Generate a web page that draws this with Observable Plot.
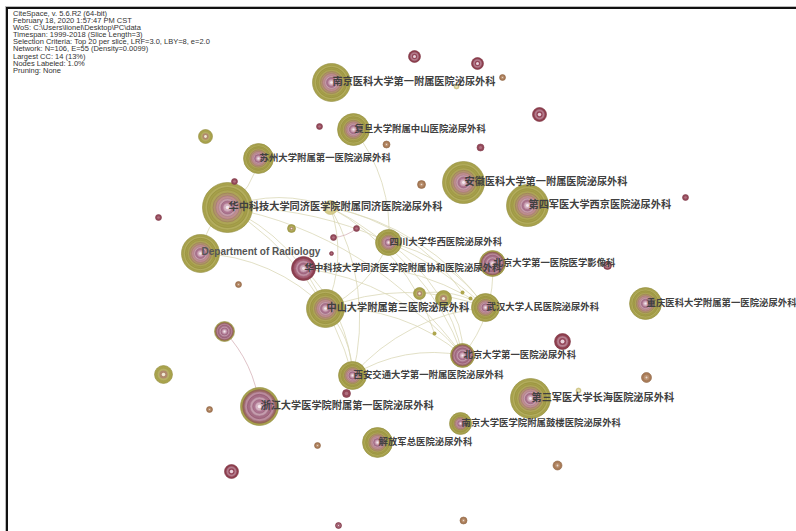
<!DOCTYPE html>
<html><head><meta charset="utf-8">
<script src="https://cdn.jsdelivr.net/npm/d3@7"></script>
<script src="https://cdn.jsdelivr.net/npm/@observablehq/plot@0.6"></script>
<style>
html,body{margin:0;padding:0;background:#fff;}
#wrap{position:relative;width:796px;height:531px;overflow:hidden;}
#frame{position:absolute;left:6px;top:7px;width:800px;height:540px;border-top:2.5px solid #111;border-left:2.5px solid #111;box-shadow:-1px -1px 0 #bbb;}
#meta{position:absolute;left:13px;top:10px;font:7.5px/7.1px "Liberation Sans",Arial,sans-serif;color:#333;white-space:pre;}
#chart{position:absolute;left:0;top:0;}
</style></head><body>
<div id="wrap"><div id="chart"></div><div id="frame"></div><div id="meta"></div></div>
<script>
const metaLines = [
  "CiteSpace, v. 5.6.R2 (64-bit)",
  "February 18, 2020 1:57:47 PM CST",
  "WoS: C:\\Users\\lionel\\Desktop\\PC\\data",
  "Timespan: 1999-2018 (Slice Length=3)",
  "Selection Criteria: Top 20 per slice, LRF=3.0, LBY=8, e=2.0",
  "Network: N=106, E=55 (Density=0.0099)",
  "Largest CC: 14 (13%)",
  "Nodes Labeled: 1.0%",
  "Pruning: None"
];

const nodeIds = ["njyk","fudan","suzhou","tongji","radio","xiehe","huaxi","anhui","xijing","bdyx","wuhan","chongqing","zs3","bdmn","xajt","zheda","changhai","gulou","jfj",
  "u01","u02","u03","u04","u05","u06","u07","u08","u09","u10","u11","u12","u13","u14","u15","u16","u17","u18","u19","u20","u21","u22","u23","u24","u25","u26","u27","u28","u29","u30","u31","u32","u33","u34","u35","u36","u37"];
const nodeX = [331,353,258,227,200,303,388,463,527,492,485,645,325,462,352,259,530,460,377,
  205,158,234,238,224,163,209,231,317,338,463,557,562,646,578,685,607,421,414,477,502,456,539,319,386,480,330,291,356,333,331,419,443,462,470,434,346];
const nodeY = [82,129,158,207,253,268,242,182,205,263,307,303,308,355,375,406,398,423,442,
  136,217,181,284,331,374,409,471,445,525,520,465,341,377,390,197,265,184,56,63,77,86,114,126,144,147,207,228,228,237,253,293,298,292,298,333,393];
const nodeSize = [19,16,15,25,19,12,13,21,21,13,14,16,19,12,14,19,20,11,15,
  7,3,3,3,10,9,3,7,3,3,3.5,4.5,8,5,2.5,3,4,4,6,6,3,2.5,7,3,3.5,3.5,7,4,3,3,2,6,8,2,2,2,4];
const nodeType = ["olive","olive","olive","olive","olive","crimson","olive","olive","olive","mauve","olive","olive","olive","mauve","olive","mauve","olive","olive","olive",
  "small","dot","dot","brown","mauve","small","brown","ring","brown","ring","brown","brown","ring","brown","pale","dot","ring","brown","ring","ring","brown","pale","ring","dot","brown","dot","pale","small","dot","dot","dot","small","small","tiny","tiny","tiny","dot"];
const nodeLabel = ["南京医科大学第一附属医院泌尿外科","复旦大学附属中山医院泌尿外科","苏州大学附属第一医院泌尿外科","华中科技大学同济医学院附属同济医院泌尿外科","Department of Radiology","华中科技大学同济医学院附属协和医院泌尿外科","四川大学华西医院泌尿外科","安徽医科大学第一附属医院泌尿外科","第四军医大学西京医院泌尿外科","北京大学第一医院医学影像科","武汉大学人民医院泌尿外科","重庆医科大学附属第一医院泌尿外科","中山大学附属第三医院泌尿外科","北京大学第一医院泌尿外科","西安交通大学第一附属医院泌尿外科","浙江大学医学院附属第一医院泌尿外科","第三军医大学长海医院泌尿外科","南京大学医学院附属鼓楼医院泌尿外科","解放军总医院泌尿外科"];

const edgeSource = ["tongji","tongji","tongji","tongji","radio","suzhou","u27","u27","u27","u27","huaxi","huaxi","zs3","zs3","xajt","xajt","xiehe","xiehe","u05","u29","zs3","u33","bdyx","huaxi","radio","tongji","u27","fudan","u32","xiehe","u27"];
const edgeTarget = ["zs3","xajt","bdmn","u27","tongji","tongji","bdmn","wuhan","xajt","zs3","bdmn","wuhan","bdmn","wuhan","wuhan","bdmn","bdmn","wuhan","zheda","u30","xajt","bdmn","bdmn","zs3","zs3","wuhan","u36","huaxi","wuhan","xajt","u34"];

// ---- Styles ----
const ringStyles = {
  olive: [[1,"#a9a34d","#8f8a3a"],[0.9,"#b3ad5d","#a09a48"],[0.8,"#a59f49","#938d3d"],[0.7,"#ada556","#99913f"],[0.58,"#b0946a","#9a7b58"],[0.47,"#bf8f8e","#a57278"],[0.36,"#c69daa","#a97a8c"],[0.26,"#ad7590","#94607a"],[0.16,"#d4b0c0","#bf95a8"],[0.07,"#f3e9ed","none"]],
  mauve: [[1,"#a7a04c","#918b3c"],[0.88,"#9c6a60","#85524f"],[0.78,"#bb8c9d","#a06c80"],[0.64,"#a56c84","#8e566e"],[0.5,"#c59dae","#a87a8e"],[0.36,"#ad7490","#935c77"],[0.22,"#d6b3c3","#bb92a6"],[0.09,"#f4eaee","none"]],
  crimson: [[1,"#8d3f50","#7a3242"],[0.82,"#a86075","#8f4b60"],[0.64,"#c393a6","#a77489"],[0.46,"#a86c86","#8f566f"],[0.3,"#d0aabb","#b48ea2"],[0.12,"#f1e4ea","none"]],
  ring: [[1,"#8e3e4d","#7a3140"],[0.7,"#b88090","#9c6577"],[0.45,"#93475a","none"],[0.25,"#e9d3dc","none"]],
  dot: [[1,"#94495a","#7f3a4a"],[0.45,"#b07080","none"]],
  brown: [[1,"#a87b57","#8f6545"],[0.55,"#ba9170","none"],[0.2,"#eadbcf","none"]],
  small: [[1,"#a9a34c","#928c3c"],[0.7,"#b7b064","#a39d4f"],[0.45,"#b08a6e","none"],[0.2,"#f0e9d5","none"]],
  pale: [[1,"#d6cc8c","#c2b874"],[0.5,"#ece4c0","none"]],
  tiny: [[1,"#aea64e","none"]]
};

document.getElementById("meta").textContent = metaLines.join("\n");

const nodes = nodeIds.map((id, i) => ({id, x: nodeX[i], y: nodeY[i], size: nodeSize[i], type: nodeType[i], label: nodeLabel[i] || ""}));
const byId = new Map(nodes.map(d => [d.id, d]));
const edges = edgeSource.map((s, i) => {
  const a = byId.get(s), b = byId.get(edgeTarget[i]);
  return {x1: a.x, y1: a.y, x2: b.x, y2: b.y, pink: s === "u05" || s === "u29"};
});

const nodeMarks = [];
for (const [type, levels] of Object.entries(ringStyles)) {
  const sub = nodes.filter(d => d.type === type);
  for (const [f, fill, stroke] of levels) {
    nodeMarks.push(Plot.dot(sub, {x: "x", y: "y", r: d => d.size * f, fill, stroke, strokeWidth: 0.6, sort: null}));
  }
}

const labelled = nodes.filter(d => d.label);
const svg = Plot.plot({
  width: 796, height: 531, margin: 0,
  x: {domain: [0, 796], range: [0, 796], axis: null},
  y: {domain: [0, 531], range: [0, 531], axis: null},
  r: {type: "identity"},
  style: {background: "transparent", overflow: "visible"},
  marks: [
    Plot.arrow(edges.filter(d => !d.pink), {x1: "x1", y1: "y1", x2: "x2", y2: "y2", bend: 22, headLength: 0, stroke: "#d9d6b4", strokeWidth: 0.9, strokeOpacity: 0.85}),
    Plot.arrow(edges.filter(d => d.pink), {x1: "x1", y1: "y1", x2: "x2", y2: "y2", bend: 18, headLength: 0, stroke: "#d2aab0", strokeWidth: 1, strokeOpacity: 0.7}),
    ...nodeMarks,
    Plot.text(labelled.filter(d => d.id !== "radio"), {x: "x", y: "y", text: "label", textAnchor: "start", dx: 1, dy: -1,
      fontSize: d => d.size >= 19 ? 10.2 : 9.4, fill: "#404040", fontWeight: "bold", fontFamily: "Noto Sans CJK SC", ariaLabel: "labels"}),
    Plot.text(labelled.filter(d => d.id === "radio"), {x: "x", y: "y", text: "label", textAnchor: "start", dx: 1, dy: -2,
      fontSize: 10, fill: "#555", fontWeight: "bold", fontFamily: "Liberation Sans, Arial, sans-serif", ariaLabel: "labels"})
  ]
});
document.getElementById("chart").appendChild(svg);

// translucent label boxes behind each label
svg.querySelectorAll('g[aria-label="labels"] text').forEach(t => {
  const b = t.getBBox();
  const r = document.createElementNS("http://www.w3.org/2000/svg", "rect");
  r.setAttribute("x", b.x - 1); r.setAttribute("y", b.y + 0.5);
  r.setAttribute("width", b.width + 2); r.setAttribute("height", b.height - 1);
  r.setAttribute("fill", "#f4f2f0"); r.setAttribute("fill-opacity", "0.72");
  if (t.getAttribute("transform")) r.setAttribute("transform", t.getAttribute("transform"));
  t.parentNode.insertBefore(r, t);
});
</script>
</body></html>
